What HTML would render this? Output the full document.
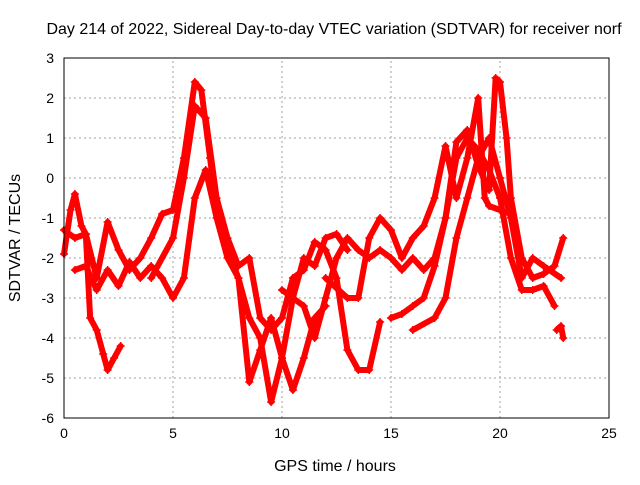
<!DOCTYPE html>
<html><head><meta charset="utf-8"><style>
body{margin:0;background:#fff}
svg text{font-family:"Liberation Sans",sans-serif;font-size:14px;fill:#000}
svg text.big{font-size:16px}
</style></head><body>
<svg id="chart" width="640" height="480" xmlns="http://www.w3.org/2000/svg">
<rect width="640" height="480" fill="#fff"/>
<g id="grid"></g>
<g id="series"></g>
<rect x="64" y="58" width="545" height="360" fill="none" stroke="#000" stroke-width="1"/>
<g id="ticks"></g>
<text class="big" x="334" y="34" text-anchor="middle">Day 214 of 2022, Sidereal Day-to-day VTEC variation (SDTVAR) for receiver norf</text>
<text class="big" x="335" y="471" text-anchor="middle">GPS time / hours</text>
<text class="big" transform="translate(20,238) rotate(-90)" text-anchor="middle">SDTVAR / TECUs</text>
</svg>
<script>
const xTicks=[0,5,10,15,20,25];
const yTicks=[3,2,1,0,-1,-2,-3,-4,-5,-6];
const trackA=[[0,-1.9],[0.3,-0.8],[0.5,-0.4],[0.8,-1.2],[1,-1.4],[1.2,-3.5],[1.5,-3.8],[1.8,-4.4],[2,-4.8],[2.3,-4.5],[2.6,-4.2]];
const trackB=[[0,-1.3],[0.5,-1.5],[1,-1.4],[1.5,-2.5],[2,-1.1],[2.5,-1.8],[3,-2.3],[3.5,-2.0],[4,-1.5],[4.5,-0.9],[5,-0.8],[5.5,0.5],[6,2.4],[6.3,2.2],[6.7,0.5],[7,-0.8],[7.5,-1.8],[8,-2.5],[8.5,-3.5],[9,-4.0],[9.5,-5.6],[10,-4.5],[10.5,-3.0],[11,-2.0],[11.5,-2.2],[12,-1.5],[12.5,-1.4],[13,-1.8]];
const trackC=[[0.5,-2.3],[1,-2.2],[1.5,-2.8],[2,-2.3],[2.5,-2.7],[3,-2.1],[3.5,-2.5],[4,-2.2],[4.5,-2.5],[5,-3.0],[5.5,-2.5],[6,-0.5],[6.5,0.2],[7,-1.0],[7.5,-2.0],[8,-2.5],[8.5,-5.1],[9,-4.3],[9.5,-3.5],[10,-4.5],[10.5,-5.3],[11,-4.5],[11.5,-3.5],[12,-3.2]];
const trackD=[[4,-2.5],[5,-1.5],[5.5,0],[6,1.8],[6.5,1.5],[7,-0.5],[7.5,-1.5],[8,-2.2],[8.5,-2.0],[9,-3.5],[9.5,-3.8],[10,-3.5],[10.5,-2.5],[11,-2.3],[11.5,-1.6],[12,-1.8],[12.5,-2.5],[13,-4.3],[13.5,-4.8],[14,-4.8],[14.5,-3.6]];
const trackE=[[10,-2.8],[11,-3.2],[11.5,-4.0],[12,-3.0],[12.5,-2.0],[13,-1.5],[13.5,-1.8],[14,-2.0],[14.5,-1.8],[15,-2.0],[15.5,-2.3],[16,-2.0],[16.5,-2.3],[17,-2.0],[17.5,-1.0],[18,0.5],[18.5,1.0],[19,0.7],[19.5,0.2],[20,-0.5],[20.5,-2.0],[21,-2.8],[21.5,-2.8],[22,-2.7],[22.5,-3.2]];
const trackF=[[12,-2.5],[13,-3.0],[13.5,-3.0],[14,-1.5],[14.5,-1.0],[15,-1.3],[15.5,-2.0],[16,-1.5],[16.5,-1.2],[17,-0.5],[17.5,0.8],[18,-0.5],[18.5,0.5],[19,2.0],[19.3,-0.5],[19.5,-0.7],[20,-0.8],[20.5,-0.9]];
const trackG=[[15,-3.5],[15.5,-3.4],[16,-3.2],[16.5,-3.0],[17,-2.2],[17.5,-1.0],[18,0.9],[18.5,1.2],[19,0.3],[19.5,-0.3],[19.8,2.5],[20,2.4],[20.3,1.0],[20.5,-0.5],[21,-2.0],[21.5,-2.5],[22,-2.4],[22.5,-2.2],[22.9,-1.5]];
const trackH=[[16,-3.8],[17,-3.5],[17.5,-3.0],[18,-1.5],[18.5,-0.5],[19,0.5],[19.5,1.0],[20,0.0],[20.5,-1.0],[21,-2.5],[21.5,-2.0],[22,-2.2],[22.8,-2.5]];
const trackI=[[22.6,-3.8],[22.8,-3.7],[22.9,-4.0]];
const tracks=[trackA,trackB,trackC,trackD,trackE,trackF,trackG,trackH,trackI];
const X0=64,X1=609,Y0=418,Y1=58;
const xs=v=>X0+(v-0)/(25-0)*(X1-X0);
const ys=v=>Y0-(v+6)/(3+6)*(Y0-Y1);
const NS="http://www.w3.org/2000/svg";
const grid=document.getElementById('grid'),ticks=document.getElementById('ticks'),ser=document.getElementById('series');
function mk(tag,attrs,parent){const e=document.createElementNS(NS,tag);for(const k in attrs)e.setAttribute(k,attrs[k]);parent.appendChild(e);return e;}
xTicks.forEach(t=>{const x=xs(t);
 if(t>0&&t<25){const g=mk('line',{x1:x,x2:x,y1:Y0,y2:Y1,stroke:'#a0a0a0','stroke-dasharray':'2,3','stroke-width':1},grid);
 
 }
 const l=mk('text',{x:x,y:Y0+20,'text-anchor':'middle'},ticks);l.textContent=t;
 
 
});
yTicks.forEach(t=>{const y=ys(t);
 if(t>-6&&t<3){const g=mk('line',{x1:X0,x2:X1,y1:y,y2:y,stroke:'#a0a0a0','stroke-dasharray':'2,3','stroke-width':1},grid);
 
 }
 const l=mk('text',{x:X0-10,y:y+5,'text-anchor':'end'},ticks);l.textContent=t;
 
 
});
tracks.forEach(tr=>{
 const p=mk('polyline',{points:tr.map(d=>xs(d[0])+','+ys(d[1])).join(' '),fill:'none',stroke:'#f00','stroke-width':6,'stroke-linejoin':'round','stroke-linecap':'round'},ser);
 
 
 tr.forEach(d=>{const x=xs(d[0]),y=ys(d[1]);
  const m=mk('path',{d:`M${x-4},${y}H${x+4}M${x},${y-4}V${y+4}`,stroke:'#f00','stroke-width':1.5},ser);
  
  
 });
});
</script>
</body></html>
